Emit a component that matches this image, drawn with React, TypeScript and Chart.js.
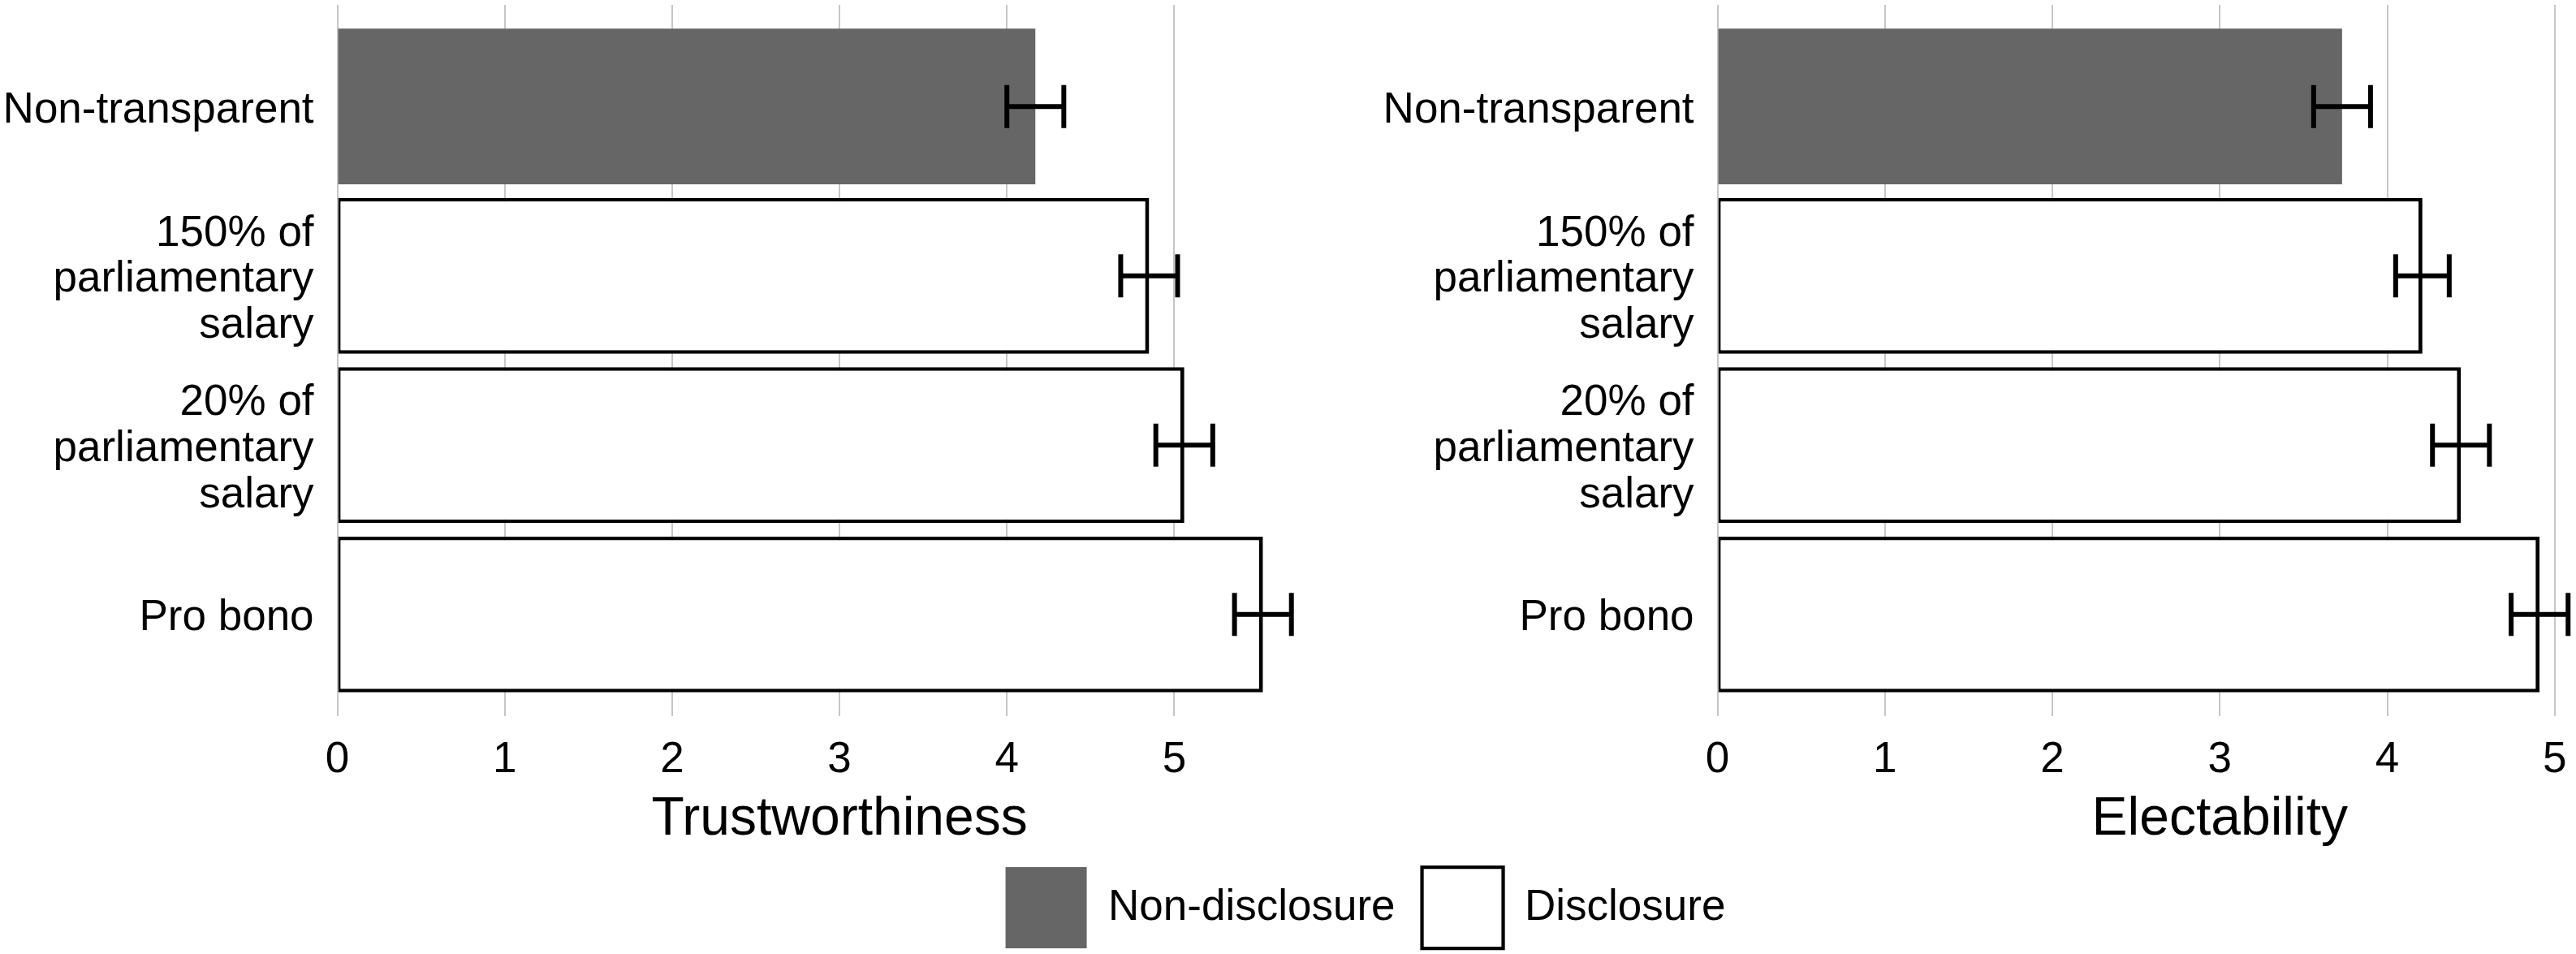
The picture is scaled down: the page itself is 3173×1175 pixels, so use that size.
import React, { useEffect, useRef } from 'react';
import { Chart, registerables } from 'chart.js';

Chart.register(...registerables);

// ---------- data ----------
const categories: string[][] = [
  ['Non-transparent'],
  ['150% of', 'parliamentary', 'salary'],
  ['20% of', 'parliamentary', 'salary'],
  ['Pro bono'],
];
const groups = ['Non-disclosure', 'Disclosure', 'Disclosure', 'Disclosure'];
const legendOrder = ['Non-disclosure', 'Disclosure'];

const trustMeans = [4.17, 4.85, 5.06, 5.53];
const trustErrors = [0.17, 0.17, 0.17, 0.17];
const electMeans = [3.73, 4.21, 4.44, 4.91];
const electErrors = [0.17, 0.16, 0.17, 0.17];

const xTicks = [0, 1, 2, 3, 4, 5];
const xRange = [0, 6];
const axisTitles = ['Trustworthiness', 'Electability'];

// ---------- styles ----------
const FONT = "'Liberation Sans', Arial, Helvetica, sans-serif";
const groupStyle: Record<string, any> = {
  'Non-disclosure': { backgroundColor: '#666666', borderColor: 'rgba(0,0,0,0)', borderWidth: 0 },
  Disclosure: {
    backgroundColor: '#ffffff',
    borderColor: '#000000',
    borderWidth: { top: 4.5, right: 5, bottom: 4.5, left: 3 },
  },
};

const LEFT_W = 3364;
const LEFT_H = 1178;
const RIGHT_LEFT = 1700;
const RIGHT_W = 1653;
const RIGHT_H = 1100;
const RIGHT_PAD_BOTTOM = 65;
const Y_AXIS_W = 415.6;
const PANEL_W = 1236.96;
const LABEL_DY = 5;

function errorBarsPlugin(means: number[], errors: number[]) {
  return {
    id: 'errorBars',
    afterDatasetsDraw(chart: any) {
      const { ctx } = chart;
      const xs = chart.scales.x;
      const ys = chart.scales.y;
      const capHalf = 0.127;
      ctx.save();
      ctx.strokeStyle = '#000000';
      ctx.lineWidth = 6;
      ctx.lineCap = 'butt';
      means.forEach((m, i) => {
        const lo = xs.getPixelForValue(m - errors[i]);
        const hi = xs.getPixelForValue(m + errors[i]);
        const yc = ys.getPixelForValue(i);
        const y0 = ys.getPixelForValue(i - capHalf);
        const y1 = ys.getPixelForValue(i + capHalf);
        ctx.beginPath();
        ctx.moveTo(lo, yc);
        ctx.lineTo(hi, yc);
        ctx.moveTo(lo, y0);
        ctx.lineTo(lo, y1);
        ctx.moveTo(hi, y0);
        ctx.lineTo(hi, y1);
        ctx.stroke();
      });
      ctx.restore();
    },
  };
}

// nudges the tick labels a few pixels down so glyphs sit centred on their ticks
const labelNudgePlugin = {
  id: 'labelNudge',
  beforeDraw(chart: any) {
    ['x', 'y'].forEach((id) => {
      const s = chart.scales[id];
      if (!s || typeof s.getLabelItems !== 'function') return;
      s._labelItems = null;
      const items = s.getLabelItems();
      items.forEach((it: any) => {
        if (it && it.options && Array.isArray(it.options.translation)) {
          it.options.translation = [it.options.translation[0], it.options.translation[1] + LABEL_DY];
        }
      });
    });
  },
};

function makeConfig(
  means: number[],
  errors: number[],
  title: string,
  showLegend: boolean,
  padAxisWidth: number | null,
  padBottom: number
): any {
  const datasets = legendOrder.map((g) => ({
    label: g,
    data: means.map((v, i) => ({ x: v, y: i })).filter((_, i) => groups[i] === g),
    ...groupStyle[g],
    borderSkipped: false,
    grouped: false,
    categoryPercentage: 1,
    barPercentage: 0.92,
  }));

  const scales: any = {
    x: {
      type: 'linear',
      min: xRange[0],
      max: xRange[1],
      offset: false,
      afterBuildTicks: (s: any) => {
        s.ticks = xTicks.map((v) => ({ value: v }));
      },
      grid: { color: '#c6c6c6', lineWidth: 2, drawTicks: false, offset: false },
      border: { display: false },
      ticks: {
        color: '#000000',
        font: { family: FONT, size: 53 },
        padding: 18,
        maxRotation: 0,
        autoSkip: false,
      },
      title: {
        display: true,
        text: title,
        color: '#000000',
        font: { family: FONT, size: 66, lineHeight: 1 },
        padding: { top: -5.1, bottom: -7.5 },
      },
    },
    y: {
      type: 'linear',
      min: -0.6,
      max: 3.6,
      reverse: true,
      offset: false,
      afterFit: (s: any) => {
        s.width = Y_AXIS_W;
        s.paddingTop = 0;
        s.paddingBottom = 0;
      },
      grid: { display: false, drawTicks: false, offset: false },
      border: { display: false },
      ticks: {
        stepSize: 1,
        includeBounds: false,
        autoSkip: false,
        color: '#000000',
        font: { family: FONT, size: 53, lineHeight: 1.07 },
        padding: 29,
        callback: (value: any) => {
          const c = categories[Math.round(Number(value))];
          if (!c) return '';
          return c.length === 1 ? c[0] : c;
        },
      },
    },
  };

  if (padAxisWidth !== null) {
    scales.pad = {
      type: 'linear',
      position: 'right',
      display: true,
      min: 0,
      max: 1,
      offset: false,
      afterFit: (s: any) => {
        s.width = padAxisWidth;
      },
      grid: { display: false, drawTicks: false },
      border: { display: false },
      ticks: { display: false },
    };
  }

  return {
    type: 'bar',
    data: { datasets },
    options: {
      indexAxis: 'y',
      responsive: false,
      maintainAspectRatio: false,
      animation: false,
      devicePixelRatio: 1,
      layout: { padding: { top: 6, left: 0, right: 0, bottom: padBottom }, autoPadding: false },
      scales,
      plugins: {
        tooltip: { enabled: false },
        title: { display: false },
        legend: showLegend
          ? {
              display: true,
              position: 'bottom',
              align: 'center',
              labels: {
                color: '#000000',
                font: { family: FONT, size: 53 },
                boxWidth: 100,
                boxHeight: 100,
                padding: 33,
              },
            }
          : { display: false },
      },
    },
    plugins: [errorBarsPlugin(means, errors), labelNudgePlugin],
  };
}

export default function App() {
  const leftRef = useRef<HTMLCanvasElement>(null);
  const rightRef = useRef<HTMLCanvasElement>(null);

  useEffect(() => {
    if (!leftRef.current || !rightRef.current) return;
    const left = new Chart(
      leftRef.current,
      makeConfig(trustMeans, trustErrors, axisTitles[0], true, LEFT_W - (Y_AXIS_W + PANEL_W), 0)
    );
    const right = new Chart(
      rightRef.current,
      makeConfig(electMeans, electErrors, axisTitles[1], false, null, RIGHT_PAD_BOTTOM)
    );
    return () => {
      left.destroy();
      right.destroy();
    };
  }, []);

  return (
    <div
      style={{
        position: 'fixed',
        left: 0,
        top: 0,
        width: 3173,
        height: 1175,
        overflow: 'hidden',
        background: '#ffffff',
      }}
    >
      <canvas
        ref={leftRef}
        width={LEFT_W}
        height={LEFT_H}
        style={{ position: 'absolute', left: 0, top: 0, width: LEFT_W, height: LEFT_H }}
      />
      <canvas
        ref={rightRef}
        width={RIGHT_W}
        height={RIGHT_H}
        style={{ position: 'absolute', left: RIGHT_LEFT, top: 0, width: RIGHT_W, height: RIGHT_H }}
      />
    </div>
  );
}
